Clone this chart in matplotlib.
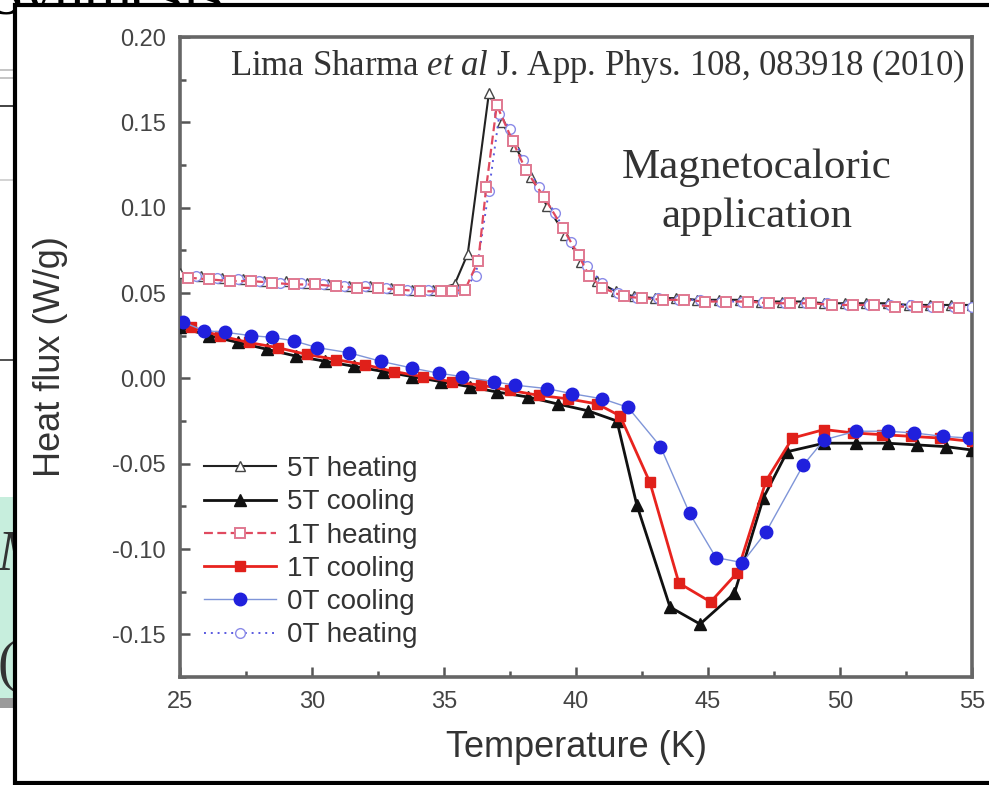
import matplotlib
matplotlib.use("Agg")
import matplotlib.pyplot as plt
from matplotlib.patches import Rectangle
from matplotlib.lines import Line2D
from matplotlib.ticker import MultipleLocator

plt.rcParams['axes.unicode_minus'] = False
plt.rcParams['font.family'] = ['Liberation Sans', 'DejaVu Sans']
plt.rcParams['mathtext.fontset'] = 'custom'
plt.rcParams['mathtext.rm'] = 'Liberation Serif'
plt.rcParams['mathtext.it'] = 'Liberation Serif:italic'

# 5T heating (open triangles)
t_5h = [25.0, 25.8, 26.6, 27.4, 28.2, 29.0, 29.8, 30.6, 31.4, 32.2, 33.0, 33.8, 34.6, 35.4,
        35.9, 36.7, 37.2, 37.7, 38.3, 38.9, 39.6, 40.2, 40.8, 41.5, 42.2, 43.0, 43.8, 44.6,
        45.4, 46.2, 47.0, 47.8, 48.6, 49.4, 50.2, 51.0, 51.8, 52.6, 53.4, 54.2, 55.0]
q_5h = [0.062, 0.060, 0.059, 0.058, 0.057, 0.057, 0.056, 0.055, 0.054, 0.054, 0.053, 0.052, 0.052, 0.055,
        0.073, 0.167, 0.150, 0.136, 0.118, 0.101, 0.084, 0.068, 0.057, 0.051, 0.048, 0.047, 0.047, 0.046,
        0.046, 0.046, 0.045, 0.045, 0.045, 0.044, 0.044, 0.044, 0.044, 0.043, 0.043, 0.043, 0.043]

# 5T cooling (filled triangles)
t_5c = [25.0, 26.1, 27.2, 28.3, 29.4, 30.5, 31.6, 32.7, 33.8, 34.9, 36.0, 37.0, 38.2, 39.3,
        40.45, 41.55, 42.3, 43.56, 44.7, 46.0, 47.1, 48.0, 49.4, 50.6, 51.8, 52.9, 54.0, 55.0]
q_5c = [0.030, 0.025, 0.021, 0.017, 0.013, 0.010, 0.007, 0.004, 0.001, -0.002, -0.005, -0.008, -0.011, -0.015,
        -0.019, -0.025, -0.074, -0.134, -0.144, -0.126, -0.070, -0.043, -0.038, -0.038, -0.038, -0.039, -0.040, -0.042]

# 1T heating (open squares)
t_1h = [25.3, 26.1, 26.9, 27.7, 28.5, 29.3, 30.1, 30.9, 31.7, 32.5, 33.3, 34.1, 34.9, 35.3,
        35.8, 36.3, 36.6, 37.0, 37.6, 38.1, 38.8, 39.5, 40.1, 40.5, 41.0, 41.8, 42.5, 43.3,
        44.1, 44.9, 45.7, 46.5, 47.3, 48.1, 48.9, 49.7, 50.5, 51.3, 52.1, 52.9, 53.7, 54.5]
q_1h = [0.059, 0.058, 0.057, 0.057, 0.056, 0.055, 0.055, 0.054, 0.053, 0.053, 0.052, 0.051, 0.051, 0.051,
        0.052, 0.069, 0.112, 0.160, 0.139, 0.122, 0.106, 0.088, 0.072, 0.060, 0.053, 0.048, 0.047, 0.046,
        0.046, 0.045, 0.045, 0.045, 0.044, 0.044, 0.044, 0.043, 0.043, 0.043, 0.042, 0.042, 0.042, 0.041]

# 1T cooling (filled squares)
t_1c = [25.4, 26.5, 27.6, 28.7, 29.8, 30.9, 32.0, 33.1, 34.2, 35.3, 36.4, 37.5, 38.6, 39.7,
        40.8, 41.67, 42.8, 43.9, 45.1, 46.1, 47.2, 48.2, 49.4, 50.5, 51.6, 52.7, 53.8, 55.0]
q_1c = [0.030, 0.025, 0.021, 0.018, 0.014, 0.011, 0.008, 0.004, 0.001, -0.002, -0.004, -0.007, -0.010, -0.012,
        -0.015, -0.022, -0.061, -0.120, -0.131, -0.114, -0.060, -0.035, -0.030, -0.032, -0.033, -0.034, -0.035, -0.037]

# 0T cooling (filled circles)
t_0c = [25.1, 25.9, 26.7, 27.7, 28.5, 29.3, 30.2, 31.4, 32.6, 33.8, 34.8, 35.7, 36.9, 37.7, 38.9,
        39.85, 41.0, 41.97, 43.2, 44.3, 45.3, 46.3, 47.2, 48.6, 49.4, 50.6, 51.8, 52.8, 53.9, 54.9]
q_0c = [0.033, 0.028, 0.027, 0.025, 0.024, 0.022, 0.018, 0.015, 0.010, 0.006, 0.003, 0.001, -0.002, -0.004, -0.006,
        -0.009, -0.012, -0.017, -0.040, -0.079, -0.105, -0.108, -0.090, -0.051, -0.036, -0.031, -0.031, -0.032, -0.034, -0.035]

# 0T heating (open circles)
t_0h = [25.6, 26.4, 27.2, 28.0, 28.8, 29.6, 30.4, 31.2, 32.0, 32.8, 33.6, 34.4, 35.2, 35.7,
        36.2, 36.7, 37.1, 37.5, 38.0, 38.6, 39.2, 39.8, 40.4, 41.0, 41.6, 42.3, 43.1, 43.9,
        44.7, 45.5, 46.3, 47.1, 47.9, 48.7, 49.5, 50.3, 51.1, 51.9, 52.7, 53.5, 54.3, 55.0]
q_0h = [0.060, 0.059, 0.058, 0.057, 0.056, 0.056, 0.055, 0.054, 0.054, 0.053, 0.052, 0.052, 0.051, 0.052,
        0.060, 0.110, 0.155, 0.146, 0.128, 0.112, 0.097, 0.080, 0.066, 0.056, 0.050, 0.047, 0.047, 0.046,
        0.046, 0.045, 0.045, 0.045, 0.044, 0.044, 0.044, 0.043, 0.043, 0.043, 0.043, 0.042, 0.042, 0.042]

W, H = 989, 785
fig = plt.figure(figsize=(W / 100, H / 100), dpi=100)

def fx(px):
    return px / W

def fy(py):
    return 1 - py / H

# bits of the slide behind the pasted figure
fig.text(fx(-10), fy(14), "Synthesis", fontsize=44, family='Liberation Serif', color='black', zorder=-5)
for yy, c in [(70, '#bbbbbb'), (78, '#bbbbbb'), (106, '#222222'), (180, '#cccccc'), (360, '#333333')]:
    fig.add_artist(Line2D([0, fx(15)], [fy(yy), fy(yy)], color=c, lw=1.2, zorder=-5))
fig.add_artist(Rectangle((0, fy(698)), fx(15), (698 - 497) / H, facecolor='#c7eedd', edgecolor='none', zorder=-5))
fig.add_artist(Rectangle((0, fy(708)), fx(15), 10 / H, facecolor='#9a9a9a', edgecolor='none', zorder=-5))
fig.text(fx(-2), fy(570), "M", fontsize=40, family='Liberation Serif', style='italic', color='#333333', zorder=-4)
fig.text(fx(-2), fy(680), "(", fontsize=40, family='Liberation Serif', color='#333333', zorder=-4)

# white box with black frame holding the chart
fig.add_artist(Rectangle((fx(15), fy(783)), 1.0, (783 - 5) / H, facecolor='white',
                         edgecolor='black', lw=3, zorder=-1))

ax = fig.add_axes([fx(180), fy(677), fx(972) - fx(180), (677 - 37) / H])
ax.patch.set_alpha(0)

ax.plot(t_5h, q_5h, color='#222222', lw=1.5, marker='^', ms=7, mfc='white', mec='#444444', mew=1.0,
        label='5T heating', zorder=3)
ax.plot(t_5c, q_5c, color='#111111', lw=2.0, marker='^', ms=8, mfc='#111111', mec='#111111',
        label='5T cooling', zorder=4)
ax.plot(t_1h, q_1h, color='#e04a60', lw=1.6, ls=(0, (4, 2)), marker='s', ms=7.5, mfc='white', mec='#e07890',
        mew=1.4, label='1T heating', zorder=5)
ax.plot(t_1c, q_1c, color='#e8231e', lw=2.0, marker='s', ms=7.5, mfc='#e0201a', mec='#e0201a',
        label='1T cooling', zorder=5)
ax.plot(t_0c, q_0c, color='#7f95d8', lw=1.0, marker='o', ms=9, mfc='#2020dd', mec='#2020dd',
        label='0T cooling', zorder=6)
ax.plot(t_0h, q_0h, color='#5a5ae0', lw=1.4, ls=(0, (1, 2.5)), marker='o', ms=7, mfc='white', mec='#8a8ae8',
        mew=1.0, label='0T heating', zorder=4)

ax.set_xlim(25, 55)
ax.set_ylim(-0.175, 0.20)
ax.xaxis.set_major_locator(MultipleLocator(5))
ax.xaxis.set_minor_locator(MultipleLocator(2.5))
ax.yaxis.set_minor_locator(MultipleLocator(0.025))
ax.set_yticks([-0.15, -0.10, -0.05, 0.00, 0.05, 0.10, 0.15, 0.20])
ax.set_yticklabels(['-0.15', '-0.10', '-0.05', '0.00', '0.05', '0.10', '0.15', '0.20'])

for s in ax.spines.values():
    s.set_color('#666666')
    s.set_linewidth(2.6)
ax.tick_params(which='both', direction='in', color='#555555', width=1.8, labelcolor='#444444',
               labelsize=17, pad=10)
ax.tick_params(which='major', length=7)
ax.tick_params(which='minor', length=4)

ax.set_xlabel('Temperature (K)', fontsize=26, color='#333333', labelpad=12)
ax.set_ylabel('Heat flux (W/g)', fontsize=26, color='#333333', labelpad=32)

ax.legend(loc='upper left', bbox_to_anchor=(0.03, 0.345), frameon=False, fontsize=20,
          handlelength=2.6, handletextpad=0.4, labelspacing=0.26, borderpad=0, borderaxespad=0,
          labelcolor='#333333')

fig.text(fx(230), fy(75), "Lima Sharma $\\mathit{et\\ al}$ J. App. Phys. 108, 083918 (2010)",
         fontsize=25, family='Liberation Serif', color='#333333')
fig.text(fx(757), fy(168), "Magnetocaloric", fontsize=31, family='Liberation Serif', color='#333333',
         ha='center', va='center')
fig.text(fx(757), fy(217), "application", fontsize=31, family='Liberation Serif', color='#333333',
         ha='center', va='center')

fig.savefig('out.png', dpi=100)
